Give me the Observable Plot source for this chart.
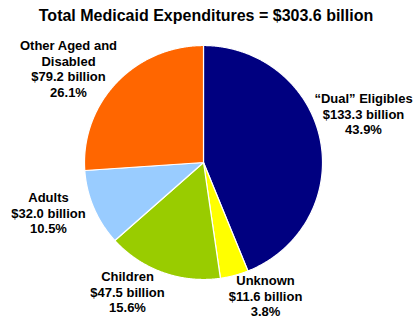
<!DOCTYPE html>
<html>
<head>
<meta charset="utf-8">
<script src="https://cdn.jsdelivr.net/npm/d3@7"></script>
<script src="https://cdn.jsdelivr.net/npm/@observablehq/plot@0.6"></script>
<style>
  html, body { margin: 0; padding: 0; background: #fff; }
  svg { display: block; }
</style>
</head>
<body>
<div id="chart"></div>
<script>
// ---- data ----
const title = "Total Medicaid Expenditures = $303.6 billion";
const categories = ["“Dual” Eligibles", "Unknown", "Children", "Adults", "Other Aged and\nDisabled"];
const billions = [133.3, 11.6, 47.5, 32.0, 79.2];
const percents = ["43.9%", "3.8%", "15.6%", "10.5%", "26.1%"];
const colors = ["#000080", "#FFFF00", "#99CC00", "#99CCFF", "#FF6600"];

// ---- layout (pixels) ----
const W = 419, H = 318;
const cx = 203, cy = 162, rx = 119, ry = 117;
const labelX = [363, 265, 127, 48, 68];
const labelY = [101, 283, 279, 200, 48]; // first baseline
const fontSize = 13;
const lineH = 15.5;

const pie = d3.pie().sort(null).value(d => d)(billions);
const slices = pie.map((p, i) => {
  const pts = [{x: cx, y: cy}];
  const n = Math.max(2, Math.ceil((p.endAngle - p.startAngle) / 0.005));
  for (let k = 0; k <= n; k++) {
    const a = p.startAngle + (p.endAngle - p.startAngle) * k / n;
    pts.push({x: cx + rx * Math.sin(a), y: cy - ry * Math.cos(a)});
  }
  return pts;
});

const labels = categories.map((c, i) => ({
  text: `${c}\n$${billions[i].toFixed(1)} billion\n${percents[i]}`,
  x: labelX[i],
  y: labelY[i] - 0.71 * fontSize
}));

const chart = Plot.plot({
  width: W,
  height: H,
  margin: 0,
  x: {domain: [0, W], range: [0, W], axis: null},
  y: {domain: [0, H], range: [0, H], axis: null},
  style: {fontFamily: "Liberation Sans, Arial, sans-serif", background: "#fff"},
  marks: [
    ...slices.map((pts, i) => Plot.line(pts, {
      x: "x", y: "y", curve: "linear-closed",
      fill: colors[i], stroke: "white", strokeWidth: 1.2, strokeLinejoin: "round"
    })),
    Plot.text(labels, {
      x: "x", y: "y", text: "text",
      lineAnchor: "top", lineHeight: lineH / fontSize,
      fontSize, fontWeight: "bold", fill: "#000", textAnchor: "middle"
    }),
    Plot.text([title], {
      x: () => 205.5, y: () => 20 - 0.71 * 16, text: d => d,
      lineAnchor: "top", fontSize: 16, fontWeight: "bold", fill: "#000"
    })
  ]
});
document.getElementById("chart").appendChild(chart);
</script>
</body>
</html>
